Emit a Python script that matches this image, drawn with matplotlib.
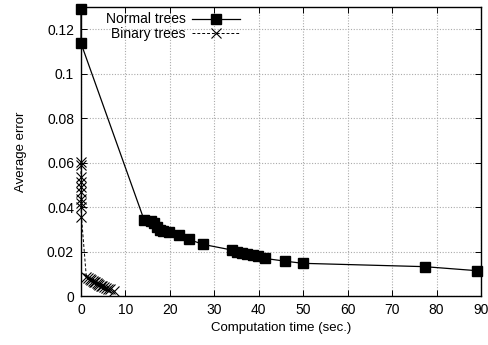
import matplotlib
matplotlib.use("Agg")
import matplotlib.pyplot as plt
from matplotlib.ticker import FuncFormatter, MultipleLocator

normal_x = [0, 0, 14.2, 15.7, 16.4, 17.0, 17.8, 18.5, 19.9, 22.1, 24.2, 27.5,
            33.9, 35.1, 36.2, 37.3, 38.8, 39.9, 41.4, 45.8, 49.9, 77.3, 89.0]
normal_y = [0.1293, 0.1137, 0.0342, 0.0339, 0.0327, 0.0312, 0.0297, 0.0294, 0.0286,
            0.0274, 0.0255, 0.0232, 0.0207, 0.0196, 0.0192, 0.0189, 0.0184, 0.0180,
            0.0169, 0.0157, 0.0147, 0.0132, 0.0114]

binary_x = [0, 0, 0, 0, 0, 0, 0, 0, 0, 0.1,
            1.2, 1.6, 2.0, 2.3, 2.6, 2.9, 3.2, 3.5, 3.8, 4.1, 4.4, 4.8, 5.2, 5.6, 6.0, 6.5, 7.5]
binary_y = [0.0605, 0.0590, 0.0536, 0.0514, 0.0490, 0.0470, 0.0436, 0.0417, 0.0400, 0.0357,
            0.0085, 0.0080, 0.0077, 0.0072, 0.0069, 0.0065, 0.0062, 0.0058, 0.0055, 0.0050,
            0.0047, 0.0043, 0.0040, 0.0036, 0.0033, 0.0030, 0.0022]

plt.rcParams['font.family'] = ['Liberation Sans', 'DejaVu Sans']
fig = plt.figure(figsize=(4.88, 3.45), dpi=100)
ax = fig.add_axes([81/488, 1-296/345, 400/488, 289/345])

ax.plot(normal_x, normal_y, '-', color='black', lw=0.9, marker='s', ms=7,
        mfc='black', mec='black', label='Normal trees', clip_on=False, zorder=3)
ax.plot(binary_x, binary_y, '--', color='black', lw=0.7, dashes=(3, 2), marker='x', ms=7,
        mew=0.8, label='Binary trees', clip_on=False, zorder=3)

ax.set_xlim(0, 90)
ax.set_ylim(0, 0.13)
ax.xaxis.set_major_locator(MultipleLocator(10))
ax.yaxis.set_major_locator(MultipleLocator(0.02))
ax.yaxis.set_major_formatter(FuncFormatter(lambda v, p: '%g' % round(v, 4)))
ax.tick_params(direction='in', top=True, right=True, length=4, width=0.7, labelsize=10,
               pad=5)
ax.grid(True, color='#aaaaaa', linestyle=(0, (1, 1.5)), lw=0.8)
ax.set_axisbelow(True)
for s in ax.spines.values():
    s.set_linewidth(1.0)

ax.set_xlabel('Computation time (sec.)', fontsize=9.5, labelpad=4)
ax.set_ylabel('Average error', fontsize=9.5, labelpad=14)

leg = ax.legend(loc='upper right', bbox_to_anchor=((248-81)/400, 1.01), frameon=False,
                markerfirst=False, fontsize=10, handlelength=3.4, handletextpad=0.5,
                labelspacing=0.05, borderaxespad=0.2)

fig.savefig('out.png', dpi=100)
